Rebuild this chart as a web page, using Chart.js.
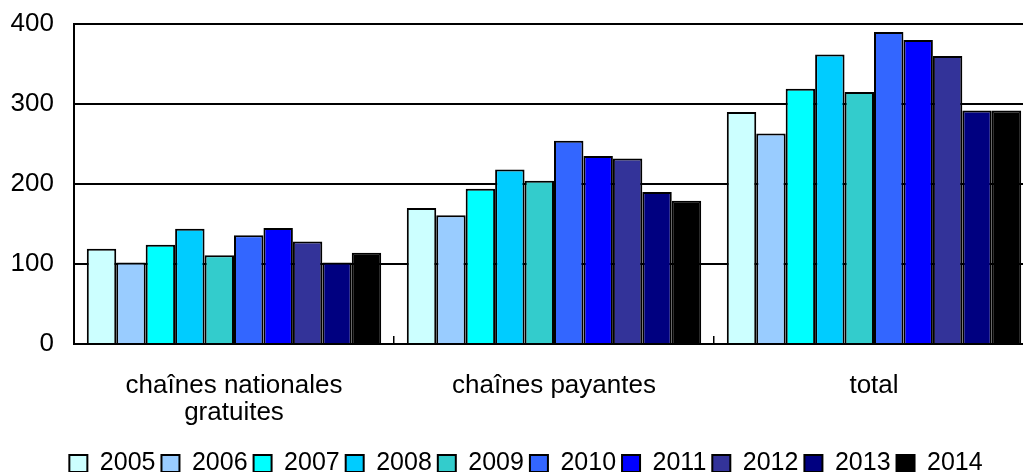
<!DOCTYPE html>
<html>
<head>
<meta charset="utf-8">
<script src="https://cdn.jsdelivr.net/npm/chart.js@4.4.1/dist/chart.umd.min.js"></script>
<style>
  html, body { margin: 0; padding: 0; overflow: hidden; background: #fff; }
  canvas { display: block; }
</style>
</head>
<body>
<canvas id="barChart" width="1036" height="472"></canvas>
<script>
var categories = [["chaînes nationales", "gratuites"], "chaînes payantes", "total"];
var years = ["2005", "2006", "2007", "2008", "2009", "2010", "2011", "2012", "2013", "2014"];
var gratuites = [119, 102, 124, 144, 111, 136, 145, 128, 102, 114];
var payantes = [170, 161, 194, 218, 204, 254, 235, 232, 190, 179];
var totals = [290, 263, 319, 362, 315, 390, 380, 360, 292, 292];
var colors = ["#CCFFFF", "#99CCFF", "#00FFFF", "#00CCFF", "#33CCCC", "#3366FF", "#0000FF", "#333399", "#000080", "#000000"];
var yTicks = [0, 100, 200, 300, 400];

var datasets = [];
for (var i = 0; i < years.length; i++) {
    datasets.push({
        label: years[i],
        backgroundColor: colors[i],
        borderColor: "#000",
        borderWidth: 2,
        data: [gratuites[i], payantes[i], totals[i]]
    });
}

var fontFamily = "'Liberation Sans', Arial, sans-serif";

// nudge the legend a little to the right, like the original
var legendShift = {
    id: 'legendShift',
    afterLayout: function (chart) {
        chart.legend.left += 9;
        chart.legend.right += 9;
    }
};

// bar chart, plot runs a bit past the window on the right like the original
var ctx = document.getElementById("barChart");
var barChart = new Chart(ctx, {
    type: 'bar',
    data: {
        labels: categories,
        datasets: datasets
    },
    plugins: [legendShift],
    options: {
        responsive: false,
        animation: false,
        layout: { padding: { top: 24, left: 0, right: 2, bottom: -14 } },
        plugins: {
            tooltip: { enabled: false },
            legend: {
                position: 'bottom',
                labels: {
                    color: "#000",
                    font: { family: fontFamily, size: 25 },
                    boxWidth: 18,
                    boxHeight: 17,
                    padding: 6
                }
            }
        },
        datasets: {
            bar: { categoryPercentage: 0.92, barPercentage: 1 }
        },
        scales: {
            x: {
                grid: { drawOnChartArea: false, color: "#000", lineWidth: 1.5, tickLength: -8 },
                border: { color: "#000", width: 2 },
                ticks: { color: "#000", font: { family: fontFamily, size: 26, lineHeight: 1.04 }, padding: 36, maxRotation: 0 },
                afterFit: function (scale) { scale.height = 101; }
            },
            y: {
                min: 0,
                max: 400,
                afterBuildTicks: function (scale) {
                    scale.ticks = yTicks.map(function (v) { return { value: v }; });
                },
                grid: { color: "#000", lineWidth: 2, drawTicks: false },
                border: { color: "#000", width: 2 },
                ticks: { color: "#000", font: { family: fontFamily, size: 26 }, padding: 20 },
                afterFit: function (scale) {
                    scale.width = 74;
                    scale.paddingTop = 0;
                    scale.paddingBottom = 0;
                }
            }
        }
    }
});
</script>
</body>
</html>
